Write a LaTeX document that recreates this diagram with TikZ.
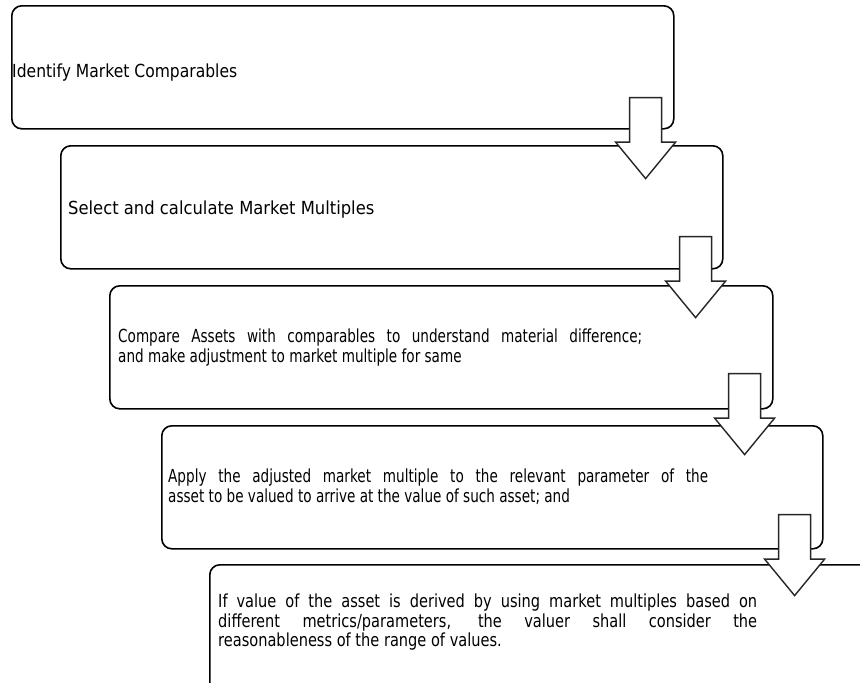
\documentclass[tikz,border=0pt]{standalone}
\usepackage{fontspec}
\setmainfont{DejaVu Sans}[FakeStretch=0.865]
\newfontfamily\fontB{DejaVu Sans}[FakeStretch=0.91]
\newfontfamily\fontC{DejaVu Sans}[FakeStretch=0.755]
\newfontfamily\fontE{DejaVu Sans}[FakeStretch=0.81]
\usetikzlibrary{calc}
\tikzset{
  box/.style={draw=black, line width=1.6pt, rounded corners=10pt, anchor=north west, inner sep=0pt, fill=white},
  txt/.style={anchor=base west, inner sep=0pt, font=\fontsize{18}{20}\selectfont, text=black},
  txtB/.style={txt, font=\fontB\fontsize{18}{20}\selectfont},
  txtC/.style={txt, font=\fontC\fontsize{18}{20}\selectfont},
  txtE/.style={txt, font=\fontE\fontsize{18}{20}\selectfont},
  darrow/.pic={
    \draw[line width=1.4pt, draw=black!85, fill=white, line join=miter]
      (-16,-81) -- (16,-81) -- (16,-36.5) -- (30,-36.5) -- (0,0) -- (-30,-36.5) -- (-16,-36.5) -- cycle;
  }
}
\begin{document}
\begin{tikzpicture}[x=1pt,y=-1pt]
\useasboundingbox (0,0) rectangle (860,683);
\clip (0,0) rectangle (860,683);
% boxes
\node[box, minimum width=662pt, minimum height=123pt] (b1) at (11,5) {};
\node[box, minimum width=662pt, minimum height=123pt] (b2) at (60,145) {};
\node[box, minimum width=663pt, minimum height=123pt] (b3) at (109,285) {};
\node[box, minimum width=661pt, minimum height=123pt] (b4) at (161,425) {};
\node[box, minimum width=720pt, minimum height=160pt] (b5) at (209,564) {};
% arrows
\coordinate (a1) at ($(b1.south east)+(-29,49)$);
\coordinate (a2) at ($(b2.south east)+(-28,48)$);
\coordinate (a3) at ($(b3.south east)+(-29,45)$);
\coordinate (a4) at ($(b4.south east)+(-29,46)$);
\pic at (a1) {darrow};
\pic at (a2) {darrow};
\pic at (a3) {darrow};
\pic at (a4) {darrow};
% texts
\node[txt] (t1) at (12,77) {Identify Market Comparables};
\node[txtB] (t2) at (68,214) {Select and calculate Market Multiples};
\node[txtC] (t3a) at (118,342) {\makebox[524pt][s]{Compare Assets with comparables to understand material difference;}};
\node[txtC] (t3b) at (118,362) {and make adjustment to market multiple for same};
\node[txtC] (t4a) at (168,482) {\makebox[540pt][s]{Apply the adjusted market multiple to the relevant parameter of the}};
\node[txtC] (t4b) at (168,502) {asset to be valued to arrive at the value of such asset; and};
\node[txtE] (t5a) at (218,607) {\makebox[539pt][s]{If value of the asset is derived by using market multiples based on}};
\node[txtE] (t5b) at (218,627) {\makebox[539pt][s]{different metrics/parameters, the valuer shall consider the}};
\node[txtE] (t5c) at (218,646) {reasonableness of the range of values.};
\end{tikzpicture}
\end{document}
